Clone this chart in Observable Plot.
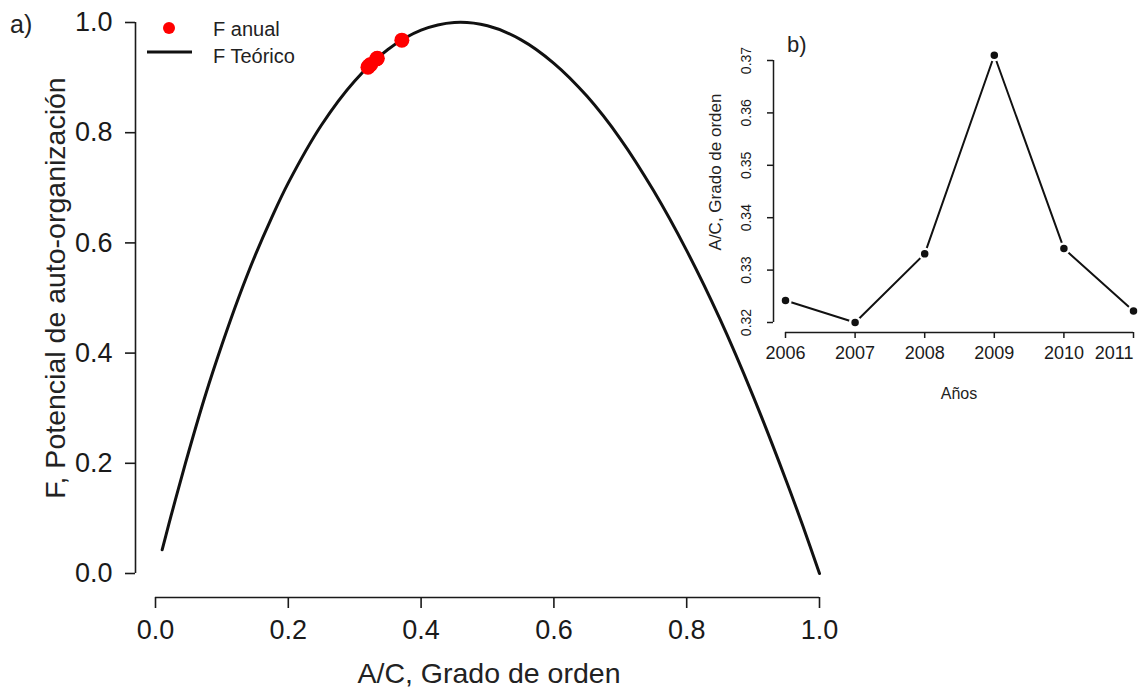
<!DOCTYPE html>
<html><head><meta charset="utf-8">
<script src="https://cdn.jsdelivr.net/npm/d3@7"></script>
<script src="https://cdn.jsdelivr.net/npm/@observablehq/plot@0.6"></script>
<style>
body{margin:0;background:#fff;font-family:"Liberation Sans",Arial,sans-serif;}
#wrap{position:relative;width:1138px;height:689px;overflow:hidden;background:#fff;}
.abs{position:absolute;white-space:nowrap;color:#222;line-height:1;}
#main,#inset{position:absolute;}
#main{left:0;top:0;}
#inset{left:680px;top:30px;}
</style></head><body>
<div id="wrap">
  <div id="main"></div>
  <div id="inset"></div>
  <div class="abs" style="left:10px;top:12px;font-size:25px;">a)</div>
  <div class="abs" style="left:787px;top:34px;font-size:22px;">b)</div>
  <div class="abs" style="left:55px;top:288px;font-size:28.5px;transform:translate(-50%,-50%) rotate(-90deg);">F, Potencial de auto-organización</div>
  <div class="abs" style="left:489px;top:659px;font-size:28.5px;transform:translateX(-50%);">A/C, Grado de orden</div>
  <div class="abs" style="left:959px;top:386px;font-size:16px;transform:translateX(-50%);">Años</div>
  <div class="abs" style="left:715px;top:172px;font-size:17px;transform:translate(-50%,-50%) rotate(-90deg);">A/C, Grado de orden</div>
  <svg class="abs" style="left:140px;top:15px;" width="60" height="50">
    <circle cx="29" cy="13" r="6" fill="red"></circle>
    <line x1="7" x2="52" y1="37" y2="37" stroke="#111" stroke-width="3"></line>
  </svg>
  <div class="abs" style="left:213px;top:19px;font-size:20px;">F anual</div>
  <div class="abs" style="left:213px;top:46px;font-size:20px;">F Teórico</div>
</div>
<script>
// Theoretical curve F vs A/C
const acGrid  = [0.01, 0.02, 0.03, 0.05, 0.075, 0.10, 0.125, 0.15, 0.175, 0.20, 0.25, 0.30, 0.35, 0.40, 0.45, 0.50, 0.55, 0.60, 0.65, 0.70, 0.75, 0.80, 0.85, 0.90, 0.95, 0.975, 1.00];
const fTheory = [0.043, 0.089, 0.134, 0.221, 0.323, 0.415, 0.500, 0.577, 0.646, 0.709, 0.814, 0.894, 0.951, 0.986, 1.000, 0.994, 0.969, 0.926, 0.866, 0.789, 0.695, 0.586, 0.462, 0.322, 0.168, 0.086, 0.000];

// Annual values
const years    = [2006, 2007, 2008, 2009, 2010, 2011];
const acAnnual = [0.3242, 0.3200, 0.3331, 0.3710, 0.3341, 0.3222];
const fAnnual  = [0.924, 0.919, 0.934, 0.968, 0.935, 0.922];

// Tick labels
const mainXTicks  = [0, 0.2, 0.4, 0.6, 0.8, 1.0];
const mainYTicks  = [0, 0.2, 0.4, 0.6, 0.8, 1.0];
const insetYTicks = [0.32, 0.33, 0.34, 0.35, 0.36, 0.37];
const insetXTicks = years;

const theory = acGrid.map((a, i) => ({a, f: fTheory[i]}));
const annual = years.map((y, i) => ({year: y, ac: acAnnual[i], f: fAnnual[i]}));

const font = '"Liberation Sans", Arial, sans-serif';
const ink = "#1a1a1a";

const main = Plot.plot({
  width: 1138, height: 689,
  marginLeft: 155, marginRight: 319, marginTop: 22, marginBottom: 116,
  style: {fontFamily: font, fontSize: "27px", color: ink, background: "transparent", overflow: "visible"},
  x: {domain: [0, 1]},
  y: {domain: [0, 1]},
  marks: [
    Plot.ruleX([mainXTicks[0]], {y1: mainYTicks[0], y2: mainYTicks[mainYTicks.length - 1], dx: -20, stroke: ink, strokeWidth: 1.6}),
    Plot.ruleY([mainYTicks[0]], {x1: mainXTicks[0], x2: mainXTicks[mainXTicks.length - 1], dy: 24, stroke: ink, strokeWidth: 1.6}),
    Plot.axisY({ticks: mainYTicks, tickSize: 10, tickPadding: 13, dx: -20, tickFormat: d3.format(".1f"), label: null, strokeWidth: 1.6}),
    Plot.axisX({ticks: mainXTicks, tickSize: 11, tickPadding: 11, dy: 24, tickFormat: d3.format(".1f"), label: null, strokeWidth: 1.6}),
    Plot.line(theory, {x: "a", y: "f", stroke: "#111", strokeWidth: 3, curve: "catmull-rom"}),
    Plot.dot(annual, {x: "ac", y: "f", r: 7.5, fill: "red"})
  ]
});
document.getElementById("main").appendChild(main);

const lastYear = insetXTicks[insetXTicks.length - 1];
const inset = Plot.plot({
  width: 458, height: 400,
  marginLeft: 105, marginRight: 5, marginTop: 30, marginBottom: 108,
  style: {fontFamily: font, fontSize: "18px", color: ink, background: "transparent", overflow: "visible"},
  x: {domain: [years[0], years[years.length - 1]]},
  y: {domain: [insetYTicks[0], insetYTicks[insetYTicks.length - 1]]},
  marks: [
    Plot.ruleX([insetXTicks[0]], {y1: insetYTicks[0], y2: insetYTicks[insetYTicks.length - 1], dx: -12, stroke: ink, strokeWidth: 1.5}),
    Plot.ruleY([insetYTicks[0]], {x1: insetXTicks[0], x2: lastYear, dy: 10, stroke: ink, strokeWidth: 1.5}),
    Plot.axisY({ticks: insetYTicks, tickSize: 6, dx: -12, tickFormat: () => "", label: null, strokeWidth: 1.5}),
    Plot.text(insetYTicks, {y: d => d, frameAnchor: "left", text: d => d3.format(".2f")(d), rotate: -90, textAnchor: "middle", dx: -39, fontSize: 14}),
    Plot.axisX({ticks: insetXTicks, tickSize: 6, dy: 10, tickFormat: () => "", label: null, strokeWidth: 1.5}),
    Plot.text(insetXTicks.slice(0, -1), {x: d => d, frameAnchor: "bottom", text: d => String(d), dy: 36, textAnchor: "middle"}),
    Plot.text([lastYear], {x: d => d, frameAnchor: "bottom", text: d => String(d), dy: 36, textAnchor: "end"}),
    Plot.line(annual, {x: "year", y: "ac", stroke: "#111", strokeWidth: 2}),
    Plot.dot(annual, {x: "year", y: "ac", r: 5, fill: "#111", stroke: "white", strokeWidth: 2.5})
  ]
});
document.getElementById("inset").appendChild(inset);
</script>
</body></html>
